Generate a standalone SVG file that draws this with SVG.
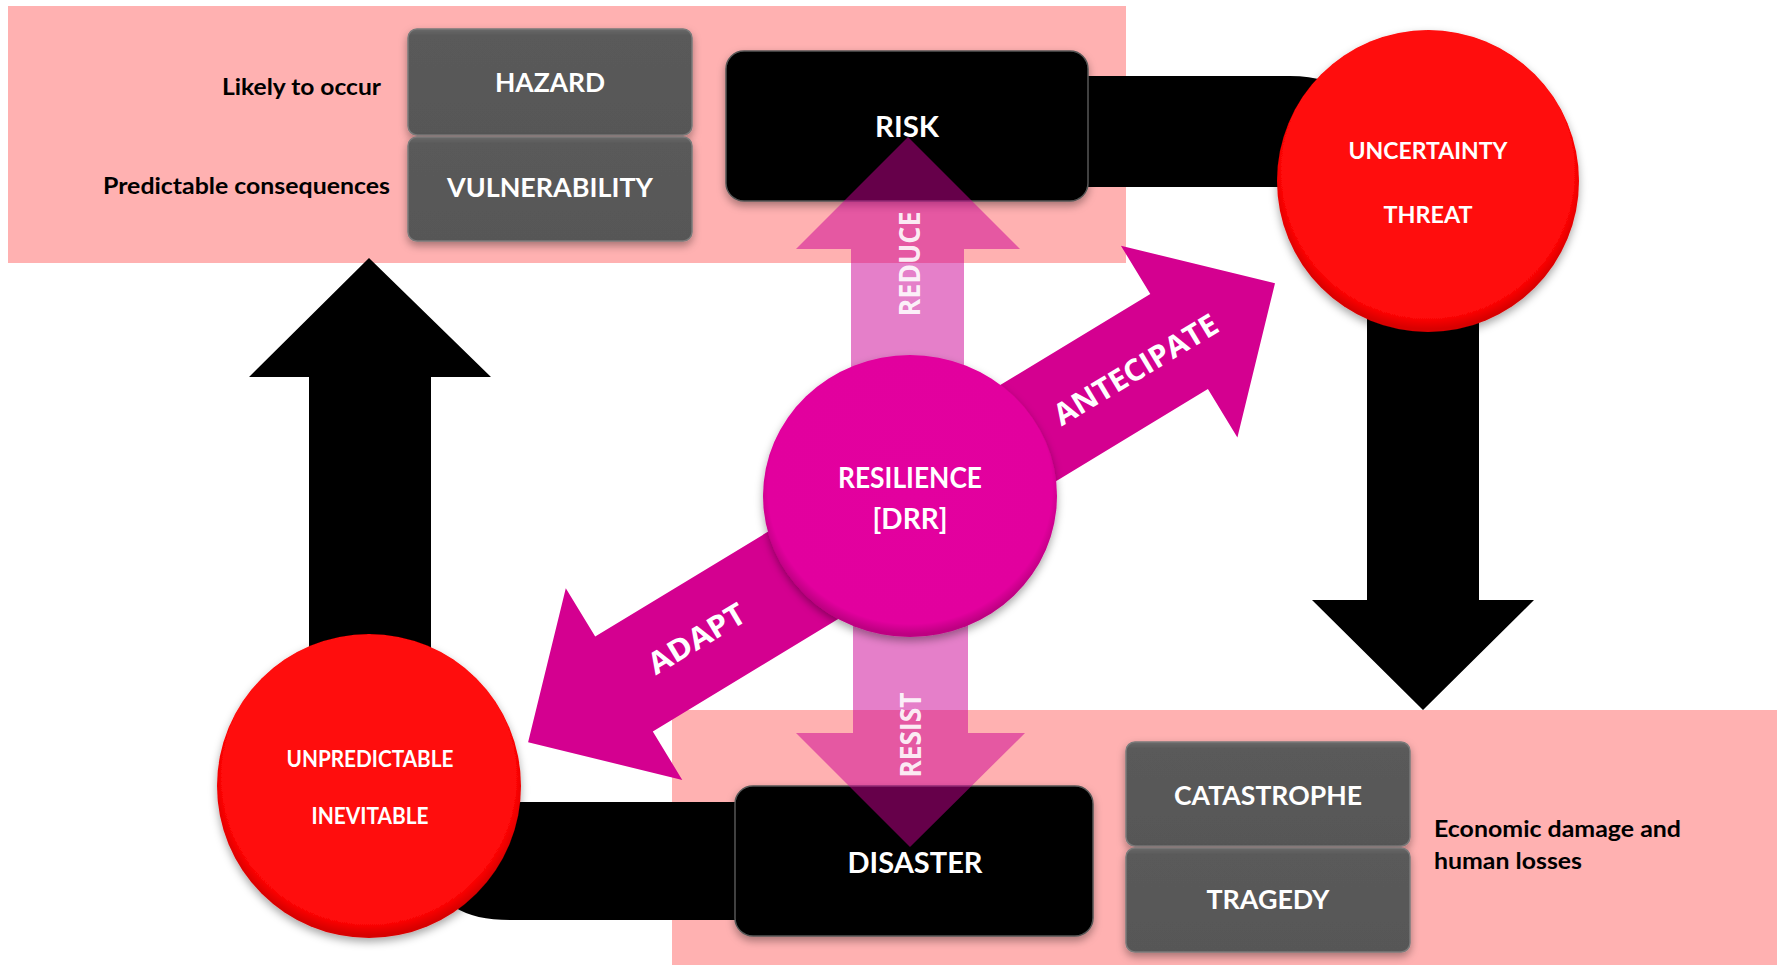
<svg xmlns="http://www.w3.org/2000/svg" width="1777" height="965" viewBox="0 0 1777 965">
<defs>
<style>
.band{fill:#FFB1B1}
.blk{fill:#000}
.dark{fill:#000;stroke:#555;stroke-width:1.5}
.lbl{font-family:Lato,"Open Sans","Liberation Sans",sans-serif;font-weight:bold;fill:#fff;text-anchor:middle}
.side{font-family:Lato,"Open Sans","Liberation Sans",sans-serif;font-weight:bold;fill:#000}
.act{font-family:"Open Sans","DejaVu Sans","Liberation Sans",sans-serif;font-weight:bold;text-anchor:middle}
.soft{fill:#CC0094;opacity:0.5}
.mag{fill:#D40090}
</style>
<radialGradient id="gRed" cx="0.5" cy="0.47" r="0.52">
<stop offset="0" stop-color="#FF0A0A"/>
<stop offset="0.93" stop-color="#FF0707"/>
<stop offset="1" stop-color="#D80000"/>
</radialGradient>
<radialGradient id="gMag" cx="0.5" cy="0.47" r="0.52">
<stop offset="0" stop-color="#E3069F"/>
<stop offset="0.93" stop-color="#E2069E"/>
<stop offset="1" stop-color="#BE0082"/>
</radialGradient>
<linearGradient id="gBox" x1="0" y1="0" x2="0" y2="1">
<stop offset="0" stop-color="#6A6A6A"/>
<stop offset="0.06" stop-color="#5A5A5A"/>
<stop offset="1" stop-color="#575757"/>
</linearGradient>
<filter id="sh" x="-20%" y="-20%" width="140%" height="140%">
<feDropShadow dx="0" dy="4" stdDeviation="4" flood-color="#000" flood-opacity="0.35"/>
</filter>
</defs>

<g id="backgrounds">
<rect class="band" x="8" y="6" width="1118" height="257"/>
<rect class="band" x="672" y="710" width="1105" height="255"/>
</g>

<g id="connectors">
<path class="blk" d="M1080 76 H1290 Q1330 76 1350 95 V187 H1080 Z"/>
<path class="blk" d="M745 802 H430 V870 Q440 920 510 920 H745 Z"/>
<polygon class="blk" points="309,700 309,377 249,377 369,258 491,377 431,377 431,700"/>
<polygon class="blk" points="1367,300 1479,300 1479,600 1534,600 1423,710 1312,600 1367,600"/>
</g>

<g id="hazard">
<rect x="408" y="29" width="284" height="106" rx="9" fill="url(#gBox)" stroke="#7a7a7a" stroke-width="1.5" filter="url(#sh)"/>
<text class="lbl" x="550" y="92" font-size="26" textLength="110" lengthAdjust="spacingAndGlyphs">HAZARD</text>
<text class="side" x="381" y="95" font-size="23" text-anchor="end" textLength="159" lengthAdjust="spacingAndGlyphs">Likely to occur</text>
</g>
<g id="vulnerability">
<rect x="408" y="137" width="284" height="104" rx="9" fill="url(#gBox)" stroke="#7a7a7a" stroke-width="1.5" filter="url(#sh)"/>
<text class="lbl" x="550" y="197" font-size="26" textLength="206" lengthAdjust="spacingAndGlyphs">VULNERABILITY</text>
<text class="side" x="390" y="194" font-size="23" text-anchor="end" textLength="287" lengthAdjust="spacingAndGlyphs">Predictable consequences</text>
</g>
<g id="risk">
<rect class="dark" x="726" y="51" width="362" height="150" rx="18" filter="url(#sh)"/>
<text class="lbl" x="907" y="137" font-size="28" textLength="64" lengthAdjust="spacingAndGlyphs">RISK</text>
</g>
<g id="disaster">
<rect class="dark" x="735" y="786" width="358" height="150" rx="18" filter="url(#sh)"/>
<text class="lbl" x="915" y="873" font-size="28" textLength="135" lengthAdjust="spacingAndGlyphs">DISASTER</text>
</g>
<g id="catastrophe">
<rect x="1126" y="742" width="284" height="104" rx="9" fill="url(#gBox)" stroke="#7a7a7a" stroke-width="1.5" filter="url(#sh)"/>
<text class="lbl" x="1268" y="805" font-size="26" textLength="188" lengthAdjust="spacingAndGlyphs">CATASTROPHE</text>
</g>
<g id="tragedy">
<rect x="1126" y="848" width="284" height="104" rx="9" fill="url(#gBox)" stroke="#7a7a7a" stroke-width="1.5" filter="url(#sh)"/>
<text class="lbl" x="1268" y="909" font-size="26" textLength="123" lengthAdjust="spacingAndGlyphs">TRAGEDY</text>
</g>
<g id="consequence-note">
<text class="side" x="1434" y="837" font-size="23" textLength="247" lengthAdjust="spacingAndGlyphs">Economic damage and</text>
<text class="side" x="1434" y="869" font-size="23" textLength="148" lengthAdjust="spacingAndGlyphs">human losses</text>
</g>

<g id="antecipate">
<polygon class="mag" points="926.6,429.5 1150.3,294.1 1120.9,245.7 1275,283.3 1237.4,437.5 1207.9,389.1 984.4,524.6"/>
<text class="act" transform="translate(1136,370) rotate(-31)" x="0" y="10" font-size="30" fill="#fff" textLength="186" lengthAdjust="spacingAndGlyphs">ANTECIPATE</text>
</g>
<g id="adapt">
<polygon class="mag" points="906.2,447.8 595.2,636.6 565.8,588.2 528.1,742.3 682.3,779.9 652.8,731.6 963.8,542.7"/>
<text class="act" transform="translate(697,639) rotate(-31)" x="0" y="10" font-size="30" fill="#fff" textLength="108" lengthAdjust="spacingAndGlyphs">ADAPT</text>
</g>
<g id="reduce">
<polygon class="soft" points="851,400 851,249 796,249 908,137 1020,249 964,249 964,400"/>
<text class="act" transform="translate(920,264) rotate(-90)" x="0" y="0" font-size="28" fill="#fff" fill-opacity="0.9" textLength="105" lengthAdjust="spacingAndGlyphs">REDUCE</text>
</g>
<g id="resist">
<polygon class="soft" points="853,600 968,600 968,733 1025,733 910,847 796,733 853,733"/>
<text class="act" transform="translate(921,735) rotate(-90)" x="0" y="0" font-size="28" fill="#fff" fill-opacity="0.9" textLength="85" lengthAdjust="spacingAndGlyphs">RESIST</text>
</g>

<g id="resilience">
<ellipse cx="910" cy="496" rx="147" ry="141" fill="url(#gMag)" filter="url(#sh)"/>
<text class="lbl" x="910" y="488" font-size="28" textLength="144" lengthAdjust="spacingAndGlyphs">RESILIENCE</text>
<text class="lbl" x="910" y="529" font-size="28">[DRR]</text>
</g>
<g id="uncertainty">
<circle cx="1428" cy="181" r="151" fill="url(#gRed)" filter="url(#sh)"/>
<text class="lbl" x="1428" y="159" font-size="23" textLength="159" lengthAdjust="spacingAndGlyphs">UNCERTAINTY</text>
<text class="lbl" x="1428" y="223" font-size="23" textLength="89" lengthAdjust="spacingAndGlyphs">THREAT</text>
</g>
<g id="unpredictable">
<circle cx="369" cy="786" r="152" fill="url(#gRed)" filter="url(#sh)"/>
<text class="lbl" x="370" y="767" font-size="22" textLength="167" lengthAdjust="spacingAndGlyphs">UNPREDICTABLE</text>
<text class="lbl" x="370" y="824" font-size="22" textLength="117" lengthAdjust="spacingAndGlyphs">INEVITABLE</text>
</g>
</svg>
